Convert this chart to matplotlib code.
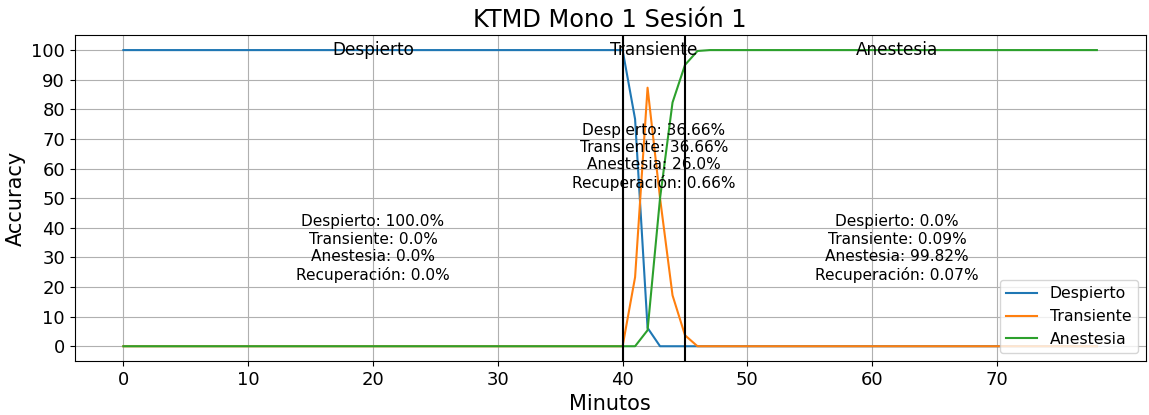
"""
Accuracy per minute of the KTMD classifier for one session, with the
three phases marked and the per-phase class percentages written in.
"""
import numpy as np
import matplotlib.pyplot as plt

#%% Data #######################################################################
minutes = np.arange(0, 79)

# values around the transition (min 40 to 46), flat elsewhere
despierto_trans = [100.0, 76.7, 6.2, 0.0, 0.0, 0.0, 0.0]
transiente_trans = [0.0, 23.3, 87.3, 50.0, 17.2, 3.7, 0.0]
anestesia_trans = [0.0, 0.0, 5.4, 50.0, 82.3, 95.0, 99.7]

despierto = [100.0] * 40 + despierto_trans + [0.0] * 32
transiente = [0.0] * 40 + transiente_trans + [0.0] * 32
anestesia = [0.0] * 40 + anestesia_trans + [100.0] * 32

phase_edges = [40, 45]
phase_names = ['Despierto', 'Transiente', 'Anestesia']
phase_centres = [20, 42.5, 62]
phase_stats = [
    'Despierto: 100.0%\nTransiente: 0.0%\nAnestesia: 0.0%\nRecuperación: 0.0%',
    'Despierto: 36.66%\nTransiente: 36.66%\nAnestesia: 26.0%\nRecuperación: 0.66%',
    'Despierto: 0.0%\nTransiente: 0.09%\nAnestesia: 99.82%\nRecuperación: 0.07%',
]
stats_y = [33, 64, 33]

#%% Plot #######################################################################
def main():
    fig, ax = plt.subplots(1, 1, figsize=(11.49, 4.15), dpi=100)
    ax.plot(minutes, despierto, label='Despierto')
    ax.plot(minutes, transiente, label='Transiente')
    ax.plot(minutes, anestesia, label='Anestesia')

    for edge in phase_edges:
        ax.axvline(edge, color='k', linewidth=1.5)

    for name, xc, stats, ys in zip(phase_names, phase_centres, phase_stats, stats_y):
        ax.text(xc, 100, name, ha='center', va='center', fontsize=12.2)
        ax.text(xc, ys, stats, ha='center', va='center', fontsize=11.1,
                multialignment='center')

    ax.set_title('KTMD Mono 1 Sesión 1', fontsize=17.3)
    ax.set_xlabel('Minutos', fontsize=15)
    ax.set_ylabel('Accuracy', fontsize=15)
    ax.set_yticks(np.arange(0, 101, 10))
    ax.set_xticks(np.arange(0, 71, 10))
    ax.tick_params(labelsize=13)
    ax.grid(True, color='#b0b0b0', linewidth=0.8)
    ax.legend(loc='lower right', fontsize=11.3)

    fig.subplots_adjust(left=0.065, right=0.997, top=0.915, bottom=0.13)
    fig.savefig('out.png', dpi=100)

#%% Run main ###################################################################
if __name__ == '__main__':
    main()
